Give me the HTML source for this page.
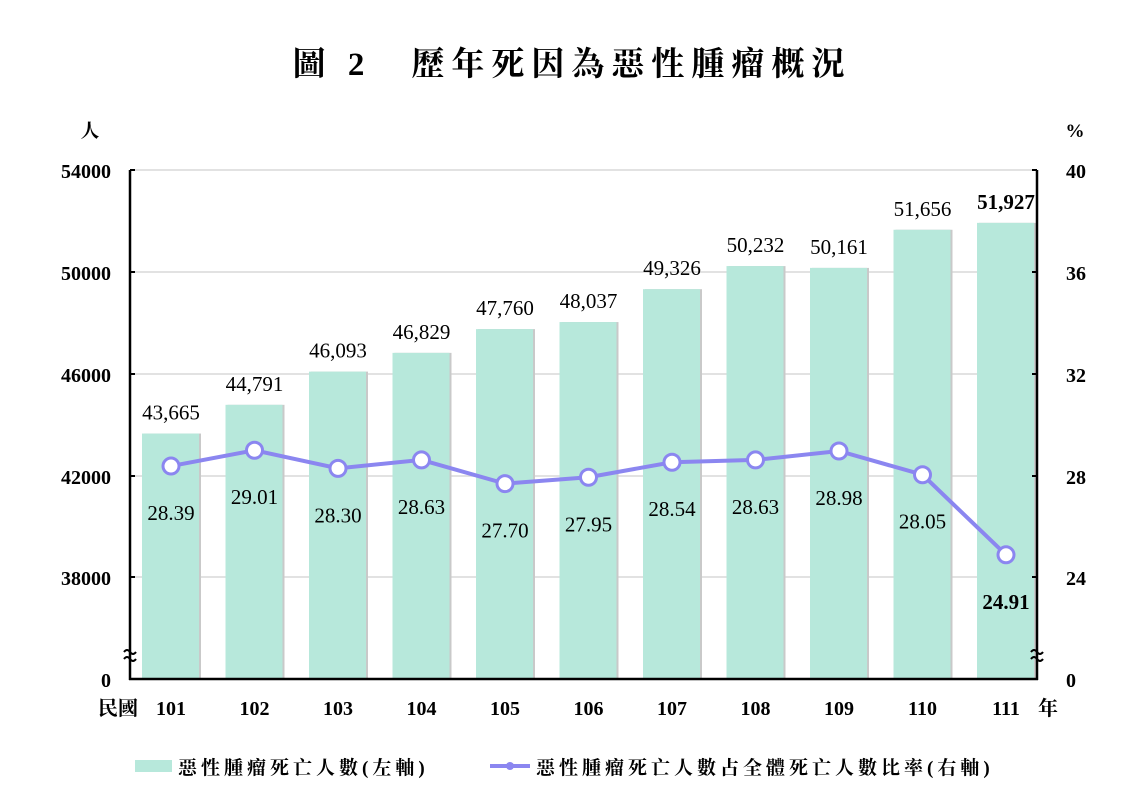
<!DOCTYPE html><html><head><meta charset="utf-8"><style>body{margin:0;background:#fff}svg{display:block}</style></head><body>
<svg width="1138" height="801" xmlns="http://www.w3.org/2000/svg" font-family="'Liberation Serif','Noto Serif CJK SC',serif">
<text x="572" y="75" text-anchor="middle" font-size="33" font-weight="bold" letter-spacing="7">圖 2　歷年死因為惡性腫瘤概況</text>
<text x="90" y="137" text-anchor="middle" font-size="19" font-weight="bold">人</text>
<text x="1075" y="137" text-anchor="middle" font-size="19" font-weight="bold">%</text>
<g stroke="#d9d9d9" stroke-width="1.5">
<line x1="130" y1="170" x2="1037" y2="170"/><line x1="130" y1="272" x2="1037" y2="272"/><line x1="130" y1="374" x2="1037" y2="374"/><line x1="130" y1="476" x2="1037" y2="476"/><line x1="130" y1="577" x2="1037" y2="577"/>
</g>
<g id="bars"></g>
<g stroke="#000" stroke-width="2.5" fill="none">
<line x1="130" y1="170" x2="130" y2="680"/><line x1="1037" y1="170" x2="1037" y2="680"/><line x1="129" y1="679" x2="1038" y2="679"/>
</g>
<g stroke="#000" stroke-width="2">
<line x1="130" y1="170" x2="135" y2="170"/><line x1="130" y1="272" x2="135" y2="272"/><line x1="130" y1="374" x2="135" y2="374"/><line x1="130" y1="476" x2="135" y2="476"/><line x1="130" y1="577" x2="135" y2="577"/>
<line x1="1032" y1="170" x2="1037" y2="170"/><line x1="1032" y1="272" x2="1037" y2="272"/><line x1="1032" y1="374" x2="1037" y2="374"/><line x1="1032" y1="476" x2="1037" y2="476"/><line x1="1032" y1="577" x2="1037" y2="577"/>
</g>
<g fill="none" stroke="#000" stroke-width="2">
<path d="M124 652 q3 -4 6 0 t6 0"/><path d="M124 659 q3 -4 6 0 t6 0"/>
<path d="M1031 652 q3 -4 6 0 t6 0"/><path d="M1031 659 q3 -4 6 0 t6 0"/>
</g>
<g font-size="20" font-weight="bold" text-anchor="end">
<text x="111" y="178">54000</text><text x="111" y="280">50000</text><text x="111" y="382">46000</text><text x="111" y="484">42000</text><text x="111" y="585">38000</text><text x="111" y="687">0</text>
</g>
<g font-size="20" font-weight="bold" text-anchor="start">
<text x="1066" y="178">40</text><text x="1066" y="280">36</text><text x="1066" y="382">32</text><text x="1066" y="484">28</text><text x="1066" y="585">24</text><text x="1066" y="687">0</text>
</g>
<text x="118" y="715" text-anchor="middle" font-size="20" font-weight="bold">民國</text>
<text x="1048" y="715" text-anchor="middle" font-size="20" font-weight="bold">年</text>
<g id="labels"></g>
<rect x="135" y="760" width="37" height="12" fill="#b7e8db"/>
<text x="178" y="774" font-size="19" font-weight="bold" letter-spacing="4">惡性腫瘤死亡人數(左軸)</text>
<line x1="490" y1="766" x2="530" y2="766" stroke="#8b86f0" stroke-width="4"/>
<circle cx="510" cy="766" r="4" fill="#8b86f0"/>
<text x="536" y="774" font-size="19" font-weight="bold" letter-spacing="4">惡性腫瘤死亡人數占全體死亡人數比率(右軸)</text>
<script>
var v=[43665,44791,46093,46829,47760,48037,49326,50232,50161,51656,51927];
var p=[28.39,29.01,28.30,28.63,27.70,27.95,28.54,28.63,28.98,28.05,24.91];
var ns="http://www.w3.org/2000/svg",b=document.getElementById('bars'),l=document.getElementById('labels');
function el(t,a,par,txt){var e=document.createElementNS(ns,t);for(var k in a)e.setAttribute(k,a[k]);if(txt)e.textContent=txt;par.appendChild(e);return e;}
var pts=[];
for(var i=0;i<11;i++){var cx=171+83.5*i;var y=170+(54000-v[i])/4000*102;
el('rect',{x:cx-27,y:y,width:57,height:679-y,fill:'#c9c9c9'},b);
el('rect',{x:cx-29,y:y,width:57,height:679-y,fill:'#b7e8db'},b);
el('text',{x:cx,y:y-14,'text-anchor':'middle','font-size':'21','font-weight':i==10?'bold':'normal'},l,v[i].toLocaleString('en-US'));
var py=170+(40-p[i])/4*102;pts.push(cx+','+py);
el('text',{x:cx,y:py+54,'text-anchor':'middle','font-size':'21','font-weight':i==10?'bold':'normal'},l,p[i].toFixed(2));
el('text',{x:cx,y:715,'text-anchor':'middle','font-size':'20','font-weight':'bold'},l,String(101+i));}
el('polyline',{points:pts.join(' '),fill:'none',stroke:'#8b86f0','stroke-width':'4'},l);
pts.forEach(function(s){var q=s.split(',');el('circle',{cx:q[0],cy:q[1],r:8,fill:'#fff',stroke:'#8b86f0','stroke-width':'3'},l);});
</script>
</svg></body></html>
